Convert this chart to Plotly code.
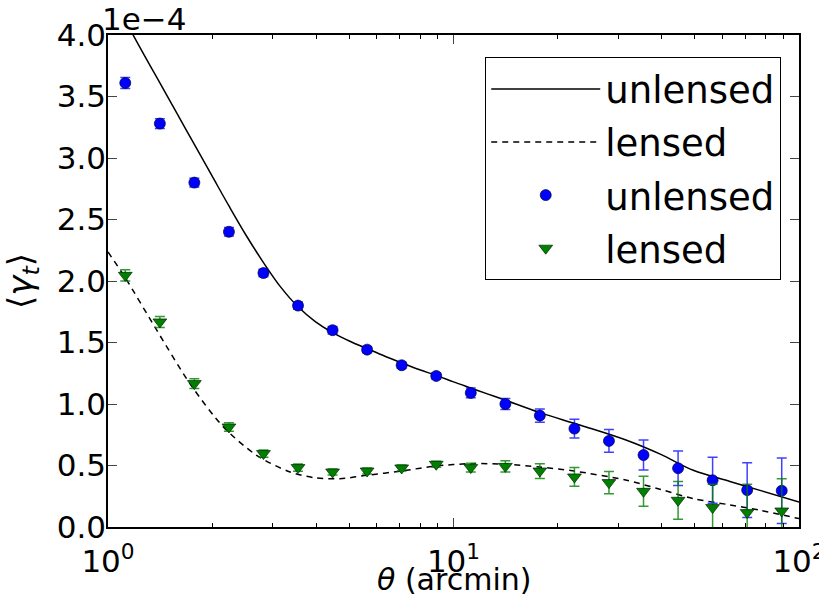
import plotly.graph_objects as go

# theta (arcmin) of measured points
theta_pts = [1.122, 1.413, 1.778, 2.239, 2.818, 3.548, 4.467, 5.623, 7.079, 8.913,
             11.22, 14.13, 17.78, 22.39, 28.18, 35.48, 44.67, 56.23, 70.79, 89.13]
# <gamma_t> in units of 1e-4
unlensed_pts = [3.61, 3.28, 2.80, 2.40, 2.065, 1.80, 1.60, 1.442, 1.315, 1.228,
                1.09, 1.00, 0.906, 0.80, 0.70, 0.585, 0.478, 0.38, 0.30, 0.295]
unlensed_err = [0.045, 0.04, 0.035, 0.035, 0.03, 0.03, 0.03, 0.025, 0.025, 0.025,
                0.04, 0.045, 0.054, 0.077, 0.092, 0.122, 0.14, 0.187, 0.222, 0.266]
lensed_pts = [2.046, 1.667, 1.166, 0.813, 0.597, 0.483, 0.447, 0.455, 0.48, 0.51,
              0.483, 0.493, 0.455, 0.407, 0.361, 0.29, 0.217, 0.158, 0.117, 0.13]
lensed_err = [0.045, 0.045, 0.04, 0.035, 0.03, 0.03, 0.025, 0.025, 0.025, 0.025,
              0.035, 0.046, 0.06, 0.076, 0.09, 0.122, 0.153, 0.19, 0.23, 0.263]

# model curves
theta_unl_curve = [1.0, 1.122, 1.259, 1.413, 1.585, 1.778, 1.995, 2.239, 2.512, 2.818,
                   3.162, 3.548, 3.981, 4.467, 5.012, 5.623, 6.310, 7.079, 7.943, 8.913,
                   10.0, 11.22, 12.59, 14.16, 17.78, 23.33, 31.70, 39.81, 49.43, 63.10,
                   77.09, 100.0]
unlensed_curve = [4.40, 4.12, 3.86, 3.61, 3.36, 3.11, 2.86, 2.61, 2.37, 2.15,
                  1.95, 1.79, 1.67, 1.58, 1.51, 1.45, 1.39, 1.335, 1.28, 1.233,
                  1.18, 1.13, 1.08, 1.03, 0.93, 0.827, 0.705, 0.59, 0.461, 0.37,
                  0.298, 0.203]
theta_len_curve = [1.0, 1.12, 1.384, 1.726, 2.158, 2.692, 3.365, 3.98, 4.69, 5.61, 7.06, 8.89,
                   11.22, 14.13, 17.74, 22.34, 31.70, 39.81, 49.43, 63.10, 77.09, 100.0]
lensed_curve = [2.236, 2.03, 1.60, 1.166, 0.813, 0.583, 0.447, 0.40, 0.393, 0.42, 0.455, 0.496,
                0.515, 0.51, 0.488, 0.455, 0.38, 0.305, 0.231, 0.18, 0.136, 0.068]

y_ticks = [0.0, 0.5, 1.0, 1.5, 2.0, 2.5, 3.0, 3.5, 4.0]
x_ticks = [1, 10, 100]
x_ticktext = ["10<sup>0</sup>", "10<sup>1</sup>", "10<sup>2</sup>"]
x_minor = [2, 3, 4, 5, 6, 7, 8, 9, 20, 30, 40, 50, 60, 70, 80, 90]

FONT = "DejaVu Sans"

fig = go.Figure()
fig.add_trace(go.Scatter(x=theta_unl_curve, y=unlensed_curve, mode="lines", name="unlensed",
                         legendgroup="a",
                         line=dict(color="black", width=1.5, shape="spline", smoothing=1)))
fig.add_trace(go.Scatter(x=theta_len_curve, y=lensed_curve, mode="lines", name="lensed",
                         legendgroup="b",
                         line=dict(color="black", width=1.5, dash="6px,5px", shape="spline",
                                   smoothing=0.8)))
fig.add_trace(go.Scatter(x=theta_pts, y=unlensed_pts, mode="markers", name="unlensed",
                         legendgroup="c",
                         marker=dict(symbol="circle", size=11, color="#0000ff",
                                     line=dict(color="#000033", width=0.7)),
                         error_y=dict(type="data", array=unlensed_err, visible=True,
                                      color="rgba(0,0,255,0.75)", thickness=1.5, width=5)))
fig.add_trace(go.Scatter(x=theta_pts, y=lensed_pts, mode="markers", name="lensed",
                         legendgroup="d",
                         marker=dict(symbol="triangle-down", size=12, color="#008000",
                                     line=dict(color="#002200", width=0.7)),
                         error_y=dict(type="data", array=lensed_err, visible=True,
                                      color="rgba(0,128,0,0.8)", thickness=1.5, width=5)))

fig.update_layout(
    width=819, height=602,
    margin=dict(l=108, r=20, t=35, b=75, autoexpand=False),
    paper_bgcolor="white", plot_bgcolor="white",
    font=dict(family=FONT, color="black", size=31),
    showlegend=True,
    legend=dict(x=0.974, y=0.955, xanchor="right", yanchor="top",
                bgcolor="white", bordercolor="black", borderwidth=1.2,
                font=dict(size=37, family=FONT), itemwidth=109,
                tracegroupgap=2),
    xaxis=dict(type="log", range=[0, 2], tickmode="array", tickvals=x_ticks,
               ticktext=x_ticktext, ticks="inside", ticklen=9, tickwidth=1,
               showline=True, linecolor="black", linewidth=1.5, mirror="allticks",
               showgrid=False, zeroline=False, ticklabeloverflow="allow", automargin=False,
               ticklabelstandoff=6,
               minor=dict(tickvals=x_minor, ticks="inside", ticklen=4, tickwidth=1,
                          tickcolor="black", showgrid=False),
               tickfont=dict(size=31)),
    yaxis=dict(range=[0, 4], tickmode="array", tickvals=y_ticks,
               ticktext=[f"{v:.1f}" for v in y_ticks], ticks="inside", ticklen=9, tickwidth=1,
               showline=True, linecolor="black", linewidth=1.5, mirror="allticks",
               showgrid=False, zeroline=False, tickfont=dict(size=31), automargin=False,
               ticklabelstandoff=-6),
    annotations=[
        dict(text="1e−4", xref="paper", yref="paper", x=0.0, y=1.0,
             xanchor="left", yanchor="bottom", showarrow=False,
             font=dict(size=31, family=FONT), xshift=-8, yshift=-4),
        dict(text="<i>θ</i> (arcmin)", xref="paper", yref="paper", x=0.5, y=-0.106,
             xanchor="center", yanchor="middle", showarrow=False,
             font=dict(size=30, family=FONT)),
        dict(text="⟨<i>γ</i><sub><i>t</i></sub>⟩", xref="paper", yref="paper", x=-0.1245, y=0.5,
             xanchor="center", yanchor="middle", showarrow=False, textangle=-90,
             font=dict(size=34, family=FONT)),
    ],
)

# remove the default page margin so the figure fills the 819x602 window exactly
fig.write_html("out.html", config={"displayModeBar": False},
               post_script="document.body.style.margin='0';")
